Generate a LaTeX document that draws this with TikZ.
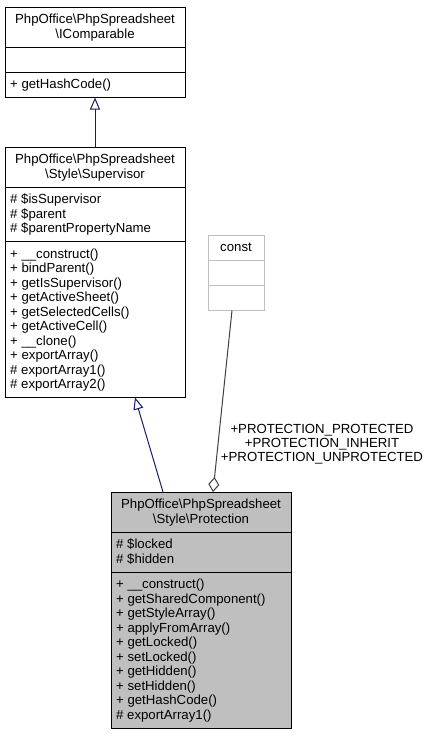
\documentclass[tikz,border=0pt]{standalone}
\usepackage{fontspec}
\setmainfont{Liberation Sans}
\usetikzlibrary{arrows.meta}
\definecolor{navyedge}{HTML}{191970}
\definecolor{grayedge}{HTML}{404040}
\definecolor{boxgray}{HTML}{BFBFBF}
\newcommand{\bs}{\textbackslash}
\begin{document}
\begin{tikzpicture}[x=1pt,y=-1pt,
  cls/.style={draw=black, line width=1pt, anchor=north west, inner sep=0pt, outer sep=0pt, minimum width=180pt},
  sepline/.style={draw=black, line width=1pt},
  ttl/.style={anchor=base, inner sep=0pt, font=\fontsize{13.2}{14.5}\selectfont},
  mem/.style={anchor=base west, inner sep=0pt, font=\fontsize{13.2}{14.5}\selectfont},
  inh/.style={draw=navyedge, line width=1pt, -{Triangle[open, length=12pt, width=10pt, fill=white]}},
  agg/.style={draw=grayedge, line width=1pt, {Diamond[open, length=15pt, width=11pt, fill=white]}-},
  lbl/.style={align=center, inner sep=0pt, font=\fontsize{13.2}{14}\selectfont}
]
\useasboundingbox[fill=white] (0,0) rectangle (431,736);

% IComparable
\node[cls, minimum height=90.5pt] (icomp) at (5,7) {};
\draw[sepline] (5,47) -- (185,47);
\draw[sepline] (5,72) -- (185,72);
\node[ttl] (icompt1) at (95,23.5) {PhpOffice\bs PhpSpreadsheet};
\node[ttl] (icompt2) at (95,38) {\bs IComparable};
\node[mem] (icompm1) at (10,88.5) {+ getHashCode()};

% Supervisor
\node[cls, minimum height=250.5pt] (sup) at (5,147) {};
\draw[sepline] (5,187) -- (185,187);
\draw[sepline] (5,241.5) -- (185,241.5);
\node[ttl] (supt1) at (95,163.5) {PhpOffice\bs PhpSpreadsheet};
\node[ttl] (supt2) at (95,178) {\bs Style\bs Supervisor};
\node[mem] (supa1) at (10,203.5) {\# \$isSupervisor};
\node[mem] (supa2) at (10,218) {\# \$parent};
\node[mem] (supa3) at (10,232.5) {\# \$parentPropertyName};
\node[mem] (supm1) at (10,258) {+ \_\_construct()};
\node[mem] (supm2) at (10,272.5) {+ bindParent()};
\node[mem] (supm3) at (10,287) {+ getIsSupervisor()};
\node[mem] (supm4) at (10,301.5) {+ getActiveSheet()};
\node[mem] (supm5) at (10,316) {+ getSelectedCells()};
\node[mem] (supm6) at (10,330.5) {+ getActiveCell()};
\node[mem] (supm7) at (10,345) {+ \_\_clone()};
\node[mem] (supm8) at (10,359.5) {+ exportArray()};
\node[mem] (supm9) at (10,374) {\# exportArray1()};
\node[mem] (supm10) at (10,388.5) {\# exportArray2()};

% const
\node[cls, draw=boxgray, minimum width=56pt, minimum height=75.5pt] (cst) at (208,235) {};
\draw[sepline, draw=boxgray] (208,260.5) -- (264,260.5);
\draw[sepline, draw=boxgray] (208,285.5) -- (264,285.5);
\node[ttl] (cstt) at (236,251.5) {const};

% Protection
\node[cls, fill=boxgray, minimum height=236pt] (prot) at (111,492) {};
\draw[sepline] (111,532) -- (291,532);
\draw[sepline] (111,572) -- (291,572);
\node[ttl] (prott1) at (201,508.5) {PhpOffice\bs PhpSpreadsheet};
\node[ttl] (prott2) at (201,523) {\bs Style\bs Protection};
\node[mem] (prota1) at (116,548.5) {\# \$locked};
\node[mem] (prota2) at (116,563) {\# \$hidden};
\node[mem] (protm1) at (116,588.5) {+ \_\_construct()};
\node[mem] (protm2) at (116,603) {+ getSharedComponent()};
\node[mem] (protm3) at (116,617.5) {+ getStyleArray()};
\node[mem] (protm4) at (116,632) {+ applyFromArray()};
\node[mem] (protm5) at (116,646.5) {+ getLocked()};
\node[mem] (protm6) at (116,661) {+ setLocked()};
\node[mem] (protm7) at (116,675.5) {+ getHidden()};
\node[mem] (protm8) at (116,690) {+ setHidden()};
\node[mem] (protm9) at (116,704.5) {+ getHashCode()};
\node[mem] (protm10) at (116,719) {\# exportArray1()};

% connectors
\draw[inh] (sup.north) -- (icomp.south);
\draw[inh] ([xshift=52pt]prot.north west) -- ([xshift=130pt]sup.south west);
\draw[agg] ([xshift=102pt]prot.north west) -- ([xshift=24pt]cst.south west);

\node[lbl] (lab) at (322,444) {+PROTECTION\_PROTECTED\\+PROTECTION\_INHERIT\\+PROTECTION\_UNPROTECTED};
\end{tikzpicture}
\end{document}
